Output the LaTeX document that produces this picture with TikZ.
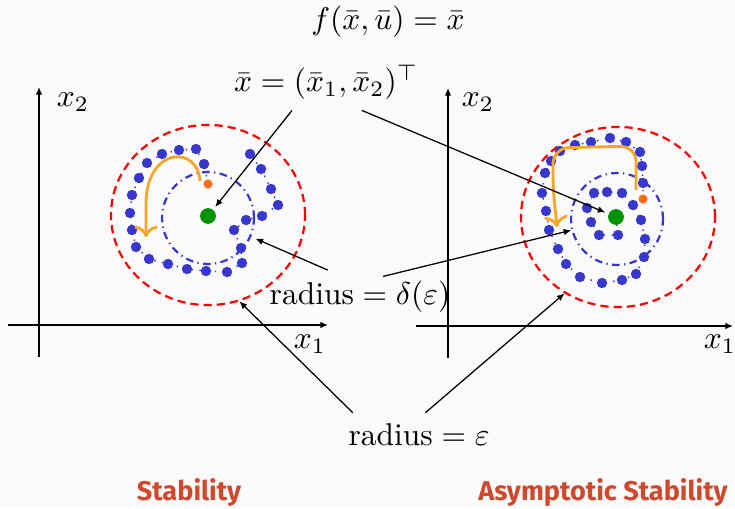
\documentclass[tikz,border=0pt]{standalone}
\usepackage{amsmath,amssymb}
\usepackage{fontspec}
\usepackage{xcolor}
\usepackage{tikz}
\usetikzlibrary{arrows.meta,shapes.geometric}
\newfontfamily\titlefont{Fira Sans}
\definecolor{bgc}{HTML}{FAFAFA}
\definecolor{trajblue}{RGB}{55,55,205}
\definecolor{eqgreen}{RGB}{0,145,0}
\definecolor{startorange}{RGB}{255,110,20}
\definecolor{floworange}{RGB}{245,165,40}
\definecolor{titlered}{RGB}{208,72,44}

\begin{document}
\begin{tikzpicture}[x=0.3175pt,y=-0.3175pt,
  axis/.style={line width=0.45pt,-{Latex[length=2.4pt,width=2.1pt]}},
  pointer/.style={line width=0.4pt,-{Latex[length=2.4pt,width=2.1pt]}},
  epsring/.style={ellipse,draw=red,line width=0.7pt,dash pattern=on 2.6pt off 1.6pt,minimum width=61.6pt,minimum height=57.2pt,inner sep=0pt},
  deltaring/.style={circle,draw=trajblue,line width=0.7pt,dash pattern=on 2.4pt off 1.4pt on 0.4pt off 1.4pt,minimum size=29.2pt,inner sep=0pt},
  traj/.style={trajblue,line width=0.45pt,dotted},
  eqdot/.style={circle,fill=eqgreen,minimum size=5pt,inner sep=0pt},
  startdot/.style={circle,fill=startorange,minimum size=2.9pt,inner sep=0pt},
  flow/.style={floworange,line width=0.9pt,->},
  titletext/.style={font=\titlefont\fontsize{8.6}{10}\selectfont\bfseries,text=titlered}]
  \fill[bgc] (0,0) rectangle (735,508);
  \useasboundingbox (0,0) rectangle (735,508);

  % axes
  \draw[axis] (8,325) -- (328,325);
  \draw[axis] (39,357) -- (39,87);
  \node (x1L) at (310,344) {$x_1$};
  \node (x2L) at (73,102) {$x_2$};
  \draw[axis] (416,326) -- (733,326);
  \draw[axis] (448,358) -- (448,88);
  \node (x1R) at (720,344) {$x_1$};
  \node (x2R) at (478,102) {$x_2$};

  % regions
  \node[epsring] (epsL) at (208,215) {};
  \node[deltaring] (deltaL) at (208,218) {};
  \node[epsring] (epsR) at (618,217) {};
  \node[deltaring] (deltaR) at (617,219) {};

  % trajectories
  \def\trajL{(204,164),(196,149),(179,150),(162,154),(147,163),(139,178),(132,195),(130,213),(132,230),(136,247),(149,259),(168,264),(187,269),(206,271),(227,272),(242,263),(241,248),(234,230),(246,220),(262,216),(278,205),(271,189),(261,169),(250,154)}
  \def\trajR{(643,183),(642,166),(640,152),(626,142),(610,138),(591,142),(575,145),(560,151),(551,161),(545,173),(542,193),(546,211),(549,230),(558,249),(566,264),(580,277),(602,283),(622,280),(636,274),(644,257),(645,239),(641,220),(633,205),(622,193),(607,192),(594,193),(587,208),(591,222),(599,235),(618,235)}
  \draw[traj] (208,184) \foreach \p in \trajL {-- \p};
  \draw[traj] (643,199) \foreach \p in \trajR {-- \p} -- (616,217);
  \foreach \p in \trajL {\fill[trajblue] \p circle (5.2);}
  \foreach \p in \trajR {\fill[trajblue] \p circle (5.2);}
  \node[startdot] (startL) at (208,184) {};
  \node[startdot] (startR) at (643,199) {};
  \node[eqdot] (eqL) at (208,216) {};
  \node[eqdot] (eqR) at (616,217) {};

  % direction of motion
  \draw[flow] (200,181) .. controls (198,146) and (149,146) .. (146,200) -- (146,237);
  \draw[flow,rounded corners=5pt] (636,190) -- (636,146) -- (553,148) -- (553,190) -- (557,227);

  % labels
  \node (fixpt) at (388,22) {$f(\bar{x},\bar{u}) = \bar{x}$};
  \node (xbar) at (326,82) {$\bar{x} = (\bar{x}_1,\bar{x}_2)^\top$};
  \node (rdelta) at (360,297) {$\mathrm{radius} = \delta(\varepsilon)$};
  \node (reps) at (419,435) {$\mathrm{radius} = \varepsilon$};
  \draw[pointer,shorten >=1pt] ([xshift=-10.8pt]xbar.south) -- (eqL);
  \draw[pointer,shorten >=1pt] ([xshift=11.4pt]xbar.south) -- (eqR);
  \draw[pointer,shorten >=1.5pt] ([xshift=-10.2pt]rdelta.north) -- (deltaL);
  \draw[pointer] ([xshift=7.3pt,yshift=-2pt]rdelta.north) -- (deltaR);
  \draw[pointer] ([xshift=-21pt]reps.north) -- (epsL.-70);
  \draw[pointer] ([xshift=2pt]reps.north) -- (epsR.-125);

  \node[titletext] (stabL) at (189,493) {Stability};
  \node[titletext] (stabR) at (603,493) {Asymptotic Stability};
\end{tikzpicture}
\end{document}
